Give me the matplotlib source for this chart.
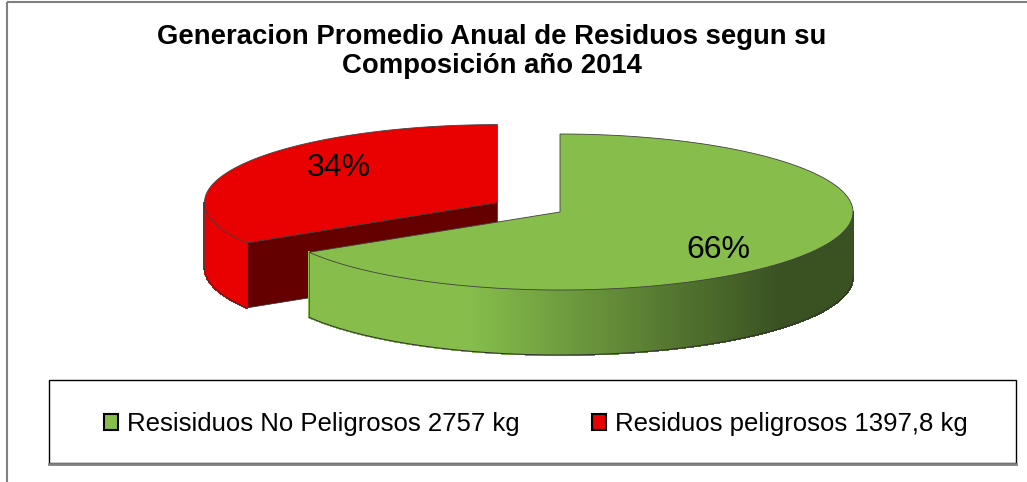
import numpy as np
import matplotlib.pyplot as plt
from matplotlib.patches import Polygon, Rectangle, Patch
from matplotlib.collections import PolyCollection
from matplotlib.colors import to_rgb

# datos del grafico
etiquetas = ['Resisiduos No Peligrosos 2757 kg', 'Residuos peligrosos 1397,8 kg']
valores = [2757, 1397.8]
colores_top = ['#86BD4B', '#E90000']
colores_cara = ['#3A5222', '#640000']

plt.rcParams['font.family'] = ['Liberation Sans', 'DejaVu Sans']

fig = plt.figure(figsize=(10.27, 4.82), dpi=100)
ax = fig.add_axes([0, 0, 1, 1])
ax.set_xlim(0, 1027)
ax.set_ylim(482, 0)
ax.axis('off')

# geometria del pastel 3D (en pixeles)
cx, cy = 560, 212
rx, ry = 293, 78
prof = 65
explode = [0, 0.245]

total = sum(valores)
fracs = [v / total for v in valores]

# angulos: empieza a las 12 y gira en sentido horario
inicio = 90.0
slices = []
for i, f in enumerate(fracs):
    a1 = inicio
    a0 = inicio - f * 360
    inicio = a0
    mid = np.radians((a0 + a1) / 2)
    ox = cx + explode[i] * rx * np.cos(mid)
    oy = cy - explode[i] * ry * np.sin(mid)
    slices.append((a0, a1, ox, oy, mid))


def pt(ox, oy, ang, dz=0):
    t = np.radians(ang)
    return ox + rx * np.cos(t), oy - ry * np.sin(t) + dz


def mezcla(c1, c2, t):
    c1, c2 = np.array(to_rgb(c1)), np.array(to_rgb(c2))
    return tuple(c1 + (c2 - c1) * t)


def dibujar(i, z):
    a0, a1, ox, oy, mid = slices[i]
    b0 = a0 % 360
    b1 = b0 + (a1 - a0)
    # cara de corte visible (la que mira al frente)
    if 90 < b1 < 270:
        p = pt(ox, oy, b1)
        cara = [(ox, oy), p, (p[0], p[1] + prof), (ox, oy + prof)]
        ax.add_patch(Polygon(cara, closed=True, fc=colores_cara[i],
                             ec='#303030', lw=0.5, zorder=z))
    # lateral curvo frontal (angulos entre 180 y 360)
    lo = max(b0, 180)
    hi = min(b1, 360)
    if hi > lo:
        angs = np.linspace(lo, hi, 240)
        quads, cols = [], []
        for k in range(len(angs) - 1):
            p1 = pt(ox, oy, angs[k])
            p2 = pt(ox, oy, angs[k + 1])
            if i == 0:
                xm = (p1[0] + p2[0]) / 2
                t = np.clip((xm - 470) / (780 - 470), 0, 1)
                col = mezcla(colores_top[i], colores_cara[i], t)
            else:
                col = to_rgb(colores_top[i])
            quads.append([p1, p2, (p2[0], p2[1] + prof), (p1[0], p1[1] + prof)])
            cols.append(col)
        ax.add_collection(PolyCollection(quads, facecolors=cols, edgecolors=cols,
                                         linewidths=0.8, antialiaseds=False,
                                         zorder=z))
        borde = [pt(ox, oy, a, prof) for a in angs]
        ax.plot([b[0] for b in borde], [b[1] for b in borde],
                color='#303030', lw=0.7, zorder=z + 0.1)
        for a in (lo, hi):
            p = pt(ox, oy, a)
            ax.plot([p[0], p[0]], [p[1], p[1] + prof], color='#404040',
                    lw=0.5, zorder=z + 0.1)
    # cara superior
    angs = np.linspace(a0, a1, 300)
    top = [(ox, oy)] + [pt(ox, oy, a) for a in angs]
    ax.add_patch(Polygon(top, closed=True, fc=colores_top[i], ec='#404040',
                         lw=0.6, zorder=z + 0.2))


dibujar(1, 2)
dibujar(0, 4)

# etiquetas de porcentaje
for i, f in enumerate(fracs):
    a0, a1, ox, oy, mid = slices[i]
    lx = ox + 0.62 * rx * np.cos(mid)
    ly = oy - 0.95 * ry * np.sin(mid) + 2
    ax.text(lx, ly, f'{f * 100:.0f}%', fontsize=23, ha='center',
            va='center', color='black', zorder=10)

# titulo
ax.text(492, 44, 'Generacion Promedio Anual de Residuos segun su',
        fontsize=19.8, fontweight='bold', ha='center', va='baseline')
ax.text(492, 73, 'Composición año 2014',
        fontsize=19.8, fontweight='bold', ha='center', va='baseline')

# bordes
ax.add_patch(Rectangle((7, 2), 1040, 500, fill=False, ec='#808080', lw=1.5))
ax.add_patch(Rectangle((49, 380), 967, 83, fill=False, ec='black', lw=1))
ax.plot([49, 1016], [463.5, 463.5], color='#808080', lw=2)

# leyenda
handles = [Patch(fc=colores_top[i], ec='black', lw=1.5) for i in range(2)]
ax.legend(handles, etiquetas, loc='center', bbox_to_anchor=(536, 424),
          bbox_transform=ax.transData, ncol=2, frameon=False, fontsize=18.5,
          handlelength=0.55, handleheight=0.6, handletextpad=0.35,
          columnspacing=2.8, borderpad=0)

fig.savefig('out.png', dpi=100)
